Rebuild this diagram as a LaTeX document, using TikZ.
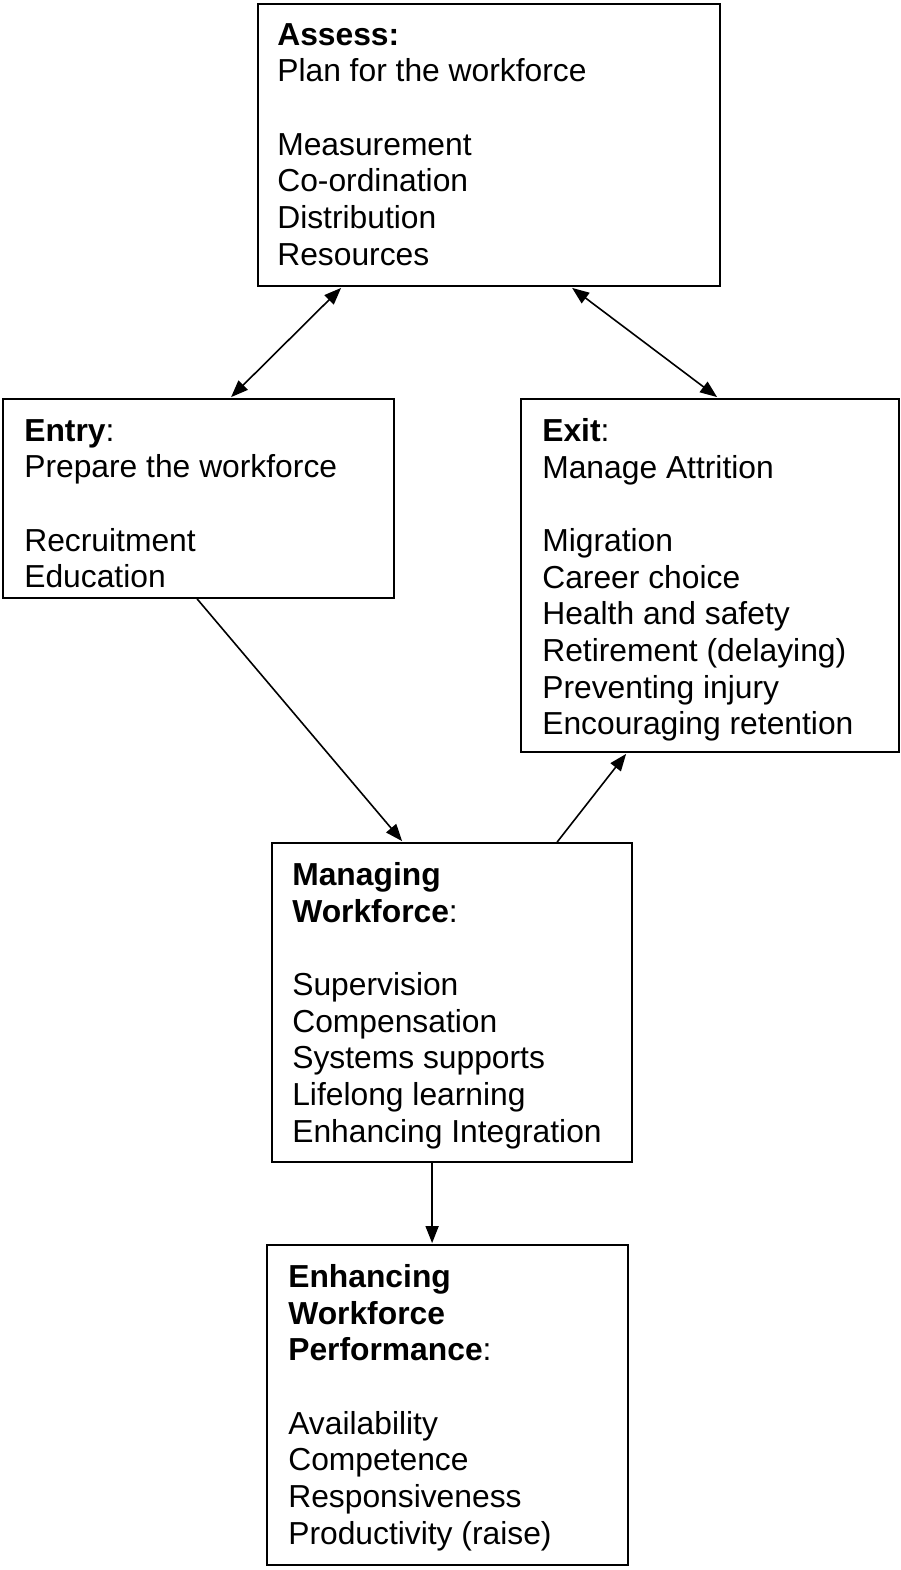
\documentclass[tikz,border=0pt]{standalone}
\usepackage{fontspec}
\setmainfont{Liberation Sans}
\usetikzlibrary{calc,arrows.meta}
\begin{document}
\begin{tikzpicture}[x=1pt,y=-1pt,
  boxnode/.style={draw=black,line width=1.8pt,inner sep=0pt,rectangle},
  txt/.style={anchor=north west,inner sep=0pt,align=left,font=\fontsize{31.8}{36.7}\selectfont},
  conn/.style={line width=1.6pt,draw=black},
  tip/.tip={Triangle[length=17pt,width=13pt]}
]
\useasboundingbox (0,0) rectangle (901,1570);
\fill[white] (0,0) rectangle (901,1570);

\node[boxnode,minimum width=462pt,minimum height=282pt] (assess) at (489,145) {};
\node[boxnode,minimum width=391pt,minimum height=199pt] (entry) at (198.5,498.5) {};
\node[boxnode,minimum width=378pt,minimum height=353pt] (exit) at (710,575.5) {};
\node[boxnode,minimum width=360pt,minimum height=319pt] (manage) at (452,1002.5) {};
\node[boxnode,minimum width=361pt,minimum height=320pt] (enhance) at (447.5,1405) {};

\node[txt] (assesstxt) at ($(assess.north west)+(20,20)$)
  {\textbf{Assess:}\\ Plan for the workforce\\[36.7pt] Measurement\\ Co-ordination\\ Distribution\\ Resources};
\node[txt] (entrytxt) at ($(entry.north west)+(22,21)$)
  {\textbf{Entry}:\\ Prepare the workforce\\[36.7pt] Recruitment\\ Education};
\node[txt] (exittxt) at ($(exit.north west)+(22,20)$)
  {\textbf{Exit}:\\ Manage Attrition\\[36.7pt] Migration\\ Career choice\\ Health and safety\\ Retirement (delaying)\\ Preventing injury\\ Encouraging retention};
\node[txt] (managetxt) at ($(manage.north west)+(21,20)$)
  {\textbf{Managing}\\ \textbf{Workforce}:\\[36.7pt] Supervision\\ Compensation\\ Systems supports\\ Lifelong learning\\ Enhancing Integration};
\node[txt] (enhancetxt) at ($(enhance.north west)+(22,20)$)
  {\textbf{Enhancing}\\ \textbf{Workforce}\\ \textbf{Performance}:\\[36.7pt] Availability\\ Competence\\ Responsiveness\\ Productivity (raise)};

\draw[conn,tip-tip] ($(assess.south west)+(84,1)$) -- ($(entry.north west)+(229,-1)$);
\draw[conn,tip-tip] ($(assess.south west)+(315,1)$) -- ($(exit.north west)+(197,-1)$);
\draw[conn,-tip] ($(entry.south west)+(195,0)$) -- ($(manage.north west)+(131,-1)$);
\draw[conn,-tip] ($(manage.north west)+(286,0)$) -- ($(exit.south west)+(106,1)$);
\draw[conn,-tip] ($(manage.south west)+(161,0)$) -- ($(enhance.north west)+(166,-1)$);
\end{tikzpicture}
\end{document}
